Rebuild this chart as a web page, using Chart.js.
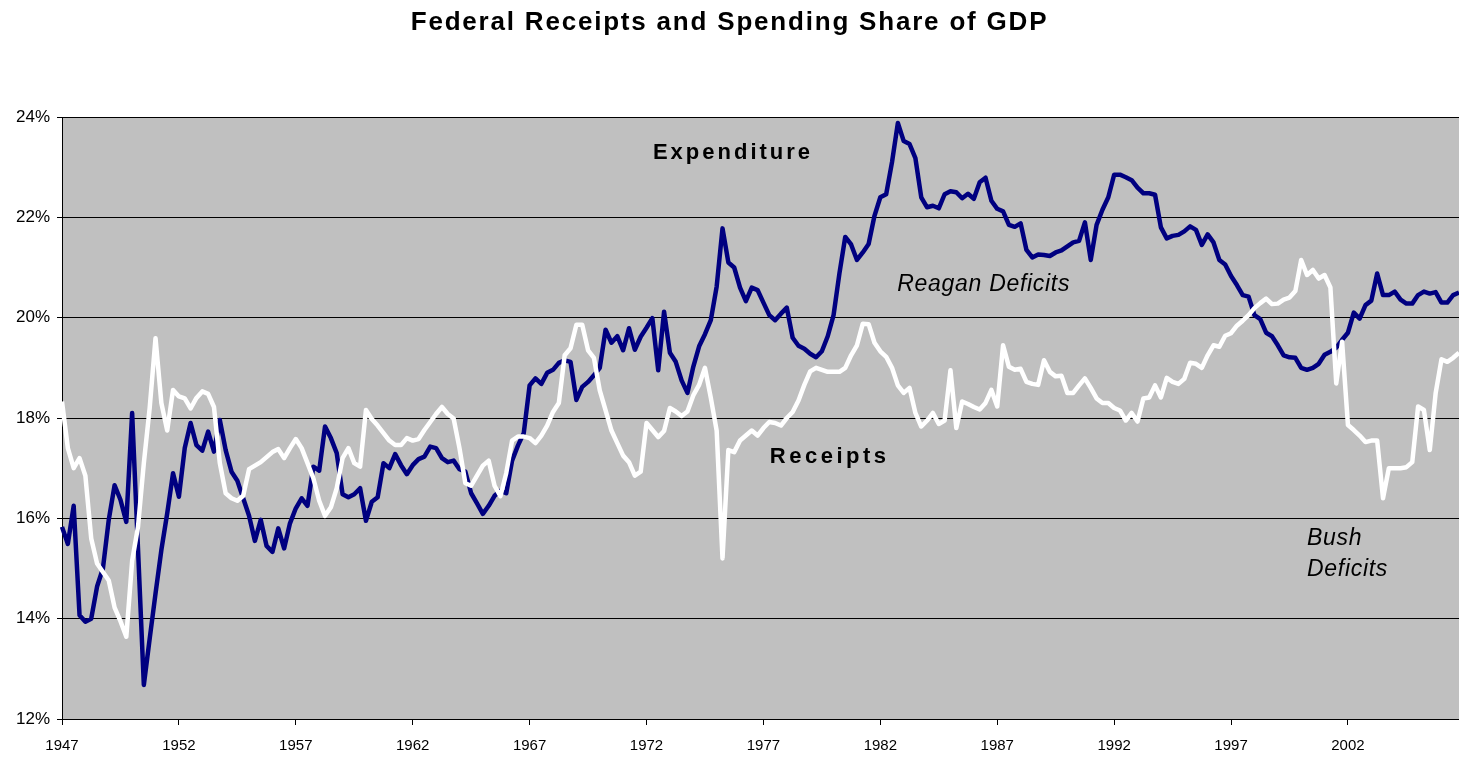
<!DOCTYPE html>
<html>
<head>
<meta charset="utf-8">
<title>Federal Receipts and Spending Share of GDP</title>
<script src="https://cdn.jsdelivr.net/npm/chart.js@4.4.1/dist/chart.umd.min.js"></script>
<style>
  html, body { margin: 0; padding: 0; background: #fff; }
  #wrap { width: 1459px; height: 762px; }
</style>
</head>
<body>
<div id="wrap"><canvas id="gdp" width="1459" height="762"></canvas></div>
<script>
// quarterly data, 1947 Q1 onwards, share of GDP in %
var startYear = 1947;
var yearTicks = ['1947', '1952', '1957', '1962', '1967', '1972', '1977', '1982', '1987', '1992', '1997', '2002'];
var yTicks = [12, 14, 16, 18, 20, 22, 24];

var expenditure = [
  15.83, 15.49, 16.25, 14.07, 13.94, 14.0, 14.64, 15.0, 15.97, 16.66, 16.37, 15.93, 18.1, 15.4, 12.68, 13.6, 14.5, 15.37, 16.1, 16.9,
  16.43, 17.4, 17.9, 17.46, 17.35, 17.73, 17.33, 17.96, 17.36, 16.93, 16.75, 16.4, 16.05, 15.55, 15.97, 15.45, 15.33, 15.8, 15.4, 15.9,
  16.2, 16.4, 16.25, 17.03, 16.95, 17.83, 17.6, 17.3, 16.48, 16.42, 16.48, 16.6, 15.95, 16.33, 16.42, 17.1, 17.0, 17.28, 17.06, 16.88,
  17.06, 17.18, 17.23, 17.43, 17.4, 17.2, 17.12, 17.15, 16.98, 16.93, 16.5, 16.3, 16.09, 16.25, 16.45, 16.55, 16.5, 17.15, 17.45, 17.7,
  18.65, 18.79, 18.68, 18.9, 18.96, 19.1, 19.15, 19.12, 18.36, 18.62, 18.72, 18.85, 19.0, 19.76, 19.5, 19.63, 19.35, 19.79, 19.36, 19.62,
  19.8, 19.99, 18.95, 20.12, 19.3, 19.12, 18.75, 18.5, 19.02, 19.43, 19.67, 19.95, 20.62, 21.78, 21.1, 21.0, 20.6, 20.33, 20.6, 20.55,
  20.3, 20.05, 19.95, 20.08, 20.2, 19.6, 19.44, 19.38, 19.28, 19.21, 19.33, 19.63, 20.05, 20.88, 21.61, 21.46, 21.15, 21.3, 21.47, 22.03,
  22.4, 22.46, 23.1, 23.88, 23.52, 23.46, 23.18, 22.4, 22.2, 22.23, 22.18, 22.46, 22.52, 22.5, 22.38, 22.47, 22.37, 22.7, 22.79, 22.33,
  22.17, 22.12, 21.85, 21.81, 21.88, 21.35, 21.2, 21.26, 21.25, 21.23, 21.3, 21.34, 21.42, 21.5, 21.53, 21.9, 21.15, 21.85, 22.15, 22.4,
  22.85, 22.85, 22.8, 22.74, 22.59, 22.48, 22.48, 22.45, 21.8, 21.58, 21.63, 21.65, 21.72, 21.82, 21.75, 21.45, 21.66, 21.5, 21.15, 21.06,
  20.83, 20.65, 20.45, 20.42, 20.05, 19.97, 19.7, 19.63, 19.45, 19.25, 19.21, 19.2, 19.0, 18.96, 19.0, 19.08, 19.26, 19.32, 19.4, 19.56,
  19.7, 20.1, 19.98, 20.25, 20.34, 20.88, 20.45, 20.45, 20.52, 20.36, 20.28, 20.28, 20.45, 20.52, 20.48, 20.51, 20.3, 20.3, 20.45, 20.5
];

var receipts = [
  18.33, 17.4, 17.0, 17.2, 16.85, 15.6, 15.1, 14.93, 14.76, 14.22, 13.95, 13.64, 15.15, 15.83, 17.1, 18.2, 19.59, 18.3, 17.75, 18.56,
  18.43, 18.39, 18.19, 18.4, 18.53, 18.48, 18.22, 17.1, 16.5, 16.4, 16.35, 16.45, 16.98, 17.05, 17.12, 17.22, 17.32, 17.38, 17.2, 17.4,
  17.58, 17.4, 17.1, 16.8, 16.35, 16.05, 16.22, 16.6, 17.2, 17.4, 17.1, 17.03, 18.16, 17.98, 17.85, 17.7, 17.55, 17.46, 17.46, 17.6,
  17.55, 17.58, 17.76, 17.92, 18.08, 18.22, 18.08, 17.99, 17.4, 16.7, 16.65, 16.85, 17.05, 17.15, 16.65, 16.44, 16.9, 17.55, 17.63, 17.63,
  17.6, 17.5, 17.65, 17.85, 18.12, 18.3, 19.25, 19.39, 19.86, 19.86, 19.35, 19.2, 18.55, 18.15, 17.75, 17.5, 17.25, 17.12, 16.85, 16.93,
  17.9, 17.76, 17.62, 17.74, 18.2, 18.13, 18.04, 18.13, 18.45, 18.66, 19.0, 18.4, 17.75, 15.2, 17.36, 17.32, 17.55, 17.65, 17.75, 17.65,
  17.8, 17.92, 17.9, 17.85, 18.0, 18.12, 18.35, 18.66, 18.93, 19.0, 18.96, 18.92, 18.92, 18.92, 19.0, 19.25, 19.45, 19.88, 19.87, 19.5,
  19.33, 19.22, 19.0, 18.65, 18.5, 18.6, 18.1, 17.83, 17.95, 18.1, 17.88, 17.95, 18.95, 17.8, 18.33, 18.28, 18.22, 18.17, 18.3, 18.56,
  18.23, 19.45, 19.02, 18.96, 18.98, 18.72, 18.68, 18.66, 19.15, 18.92, 18.83, 18.84, 18.5, 18.5, 18.65, 18.79, 18.6, 18.39, 18.3, 18.3,
  18.2, 18.15, 17.95, 18.1, 17.93, 18.39, 18.41, 18.65, 18.41, 18.8, 18.72, 18.68, 18.78, 19.1, 19.08, 19.0, 19.25, 19.45, 19.42, 19.64,
  19.69, 19.84, 19.94, 20.05, 20.19, 20.29, 20.38, 20.27, 20.28, 20.36, 20.4, 20.53, 21.15, 20.85, 20.95, 20.78, 20.85, 20.6, 18.69, 19.52,
  17.86, 17.76, 17.65, 17.52, 17.55, 17.55, 16.4, 17.0, 17.0, 17.0, 17.02, 17.12, 18.23, 18.16, 17.36, 18.49, 19.17, 19.12, 19.2, 19.3
];

// one category per quarter
var quarters = [];
for (var i = 0; i < expenditure.length; i++) {
  quarters.push((startYear + Math.floor(i / 4)) + ' Q' + (i % 4 + 1));
}

// text labels placed in data coordinates (quarter index, % of GDP)
var notes = [
  { text: 'Expenditure', q: 101.1, v: 23.28, font: 'bold 22px "Liberation Sans", Arial, sans-serif', spacing: '3px' },
  { text: 'Receipts', q: 121.1, v: 17.22, font: 'bold 22px "Liberation Sans", Arial, sans-serif', spacing: '3.5px' },
  { text: 'Reagan Deficits', q: 142.9, v: 20.65, font: 'italic 23px "Liberation Sans", Arial, sans-serif', spacing: '0.7px' },
  { text: 'Bush', q: 213, v: 15.59, font: 'italic 23px "Liberation Sans", Arial, sans-serif', spacing: '0.7px' },
  { text: 'Deficits', q: 213, v: 14.97, font: 'italic 23px "Liberation Sans", Arial, sans-serif', spacing: '0.7px' }
];

function isYearTick(idx) {
  var label = quarters[idx];
  return label.slice(-2) === 'Q1' && yearTicks.indexOf(label.slice(0, 4)) !== -1;
}

var plotBackground = {
  id: 'plotBackground',
  beforeDraw: function(chart) {
    var a = chart.chartArea;
    var ctx = chart.ctx;
    ctx.save();
    ctx.fillStyle = '#c0c0c0';
    ctx.fillRect(a.left, a.top, a.right - a.left, a.bottom - a.top);
    ctx.restore();
  }
};

var textLayer = {
  id: 'textLayer',
  afterDraw: function(chart) {
    var ctx = chart.ctx;
    var xs = chart.scales.x, ys = chart.scales.y;
    ctx.save();
    ctx.fillStyle = '#000';
    ctx.textBaseline = 'middle';

    ctx.font = 'bold 26px "Liberation Sans", Arial, sans-serif';
    ctx.letterSpacing = '1.8px';
    ctx.textAlign = 'center';
    ctx.fillText('Federal Receipts and Spending Share of GDP', chart.width / 2, 23);

    ctx.textAlign = 'left';
    notes.forEach(function(n) {
      ctx.font = n.font;
      ctx.letterSpacing = n.spacing;
      ctx.fillText(n.text, xs.getPixelForValue(n.q), ys.getPixelForValue(n.v));
    });
    ctx.restore();
  }
};

var ctx = document.getElementById('gdp');

var gdpChart = new Chart(ctx, {
  type: 'line',
  data: {
    labels: quarters,
    datasets: [
      {
        label: 'Receipts',
        data: receipts,
        borderColor: '#ffffff',
        borderWidth: 4.5,
        pointRadius: 0,
        tension: 0,
        borderJoinStyle: 'round',
        fill: false,
        order: 0
      },
      {
        label: 'Expenditure',
        data: expenditure,
        borderColor: '#000080',
        borderWidth: 4.5,
        pointRadius: 0,
        tension: 0,
        borderJoinStyle: 'round',
        fill: false,
        order: 1
      }
    ]
  },
  options: {
    responsive: false,
    animation: false,
    layout: { padding: { top: 117, right: 0, bottom: 0, left: 0 } },
    plugins: {
      legend: { display: false },
      tooltip: { enabled: false },
      title: { display: false }
    },
    scales: {
      x: {
        type: 'category',
        offset: false,
        border: { display: true, color: '#000', width: 1 },
        grid: {
          display: true,
          drawOnChartArea: false,
          tickLength: 6,
          color: function(c) { return c.tick && isYearTick(c.index) ? '#000' : 'rgba(0,0,0,0)'; }
        },
        ticks: {
          autoSkip: false,
          maxRotation: 0,
          minRotation: 0,
          padding: 12,
          color: '#000',
          font: { family: '"Liberation Sans", Arial, sans-serif', size: 15 },
          callback: function(val, idx) {
            return isYearTick(idx) ? quarters[idx].slice(0, 4) : '';
          }
        },
        afterFit: function(scale) {
          scale.height = 43;
          scale.paddingRight = 0;
        }
      },
      y: {
        min: yTicks[0],
        max: yTicks[yTicks.length - 1],
        border: { display: true, color: '#000', width: 1 },
        grid: { color: '#000', lineWidth: 1, tickLength: 5 },
        ticks: {
          stepSize: 2,
          padding: 7,
          color: '#000',
          font: { family: '"Liberation Sans", Arial, sans-serif', size: 17 },
          callback: function(v) { return v + '%'; }
        },
        afterFit: function(scale) { scale.width = 62; }
      }
    }
  },
  plugins: [plotBackground, textLayer]
});
</script>
</body>
</html>
